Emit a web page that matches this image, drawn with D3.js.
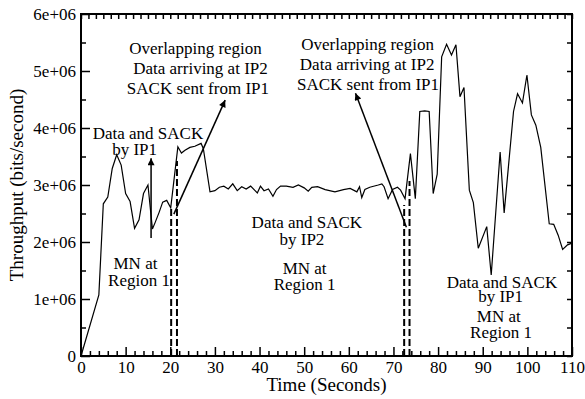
<!DOCTYPE html>
<html>
<head>
<meta charset="utf-8">
<script src="https://cdn.jsdelivr.net/npm/d3@7"></script>
<style>
  html, body { margin: 0; padding: 0; background: #fff; }
  svg { display: block; }
  text { font-family: "Liberation Serif", "Times New Roman", serif; fill: #000; }
</style>
</head>
<body>
<svg id="chart" width="585" height="399"></svg>
<script>
// ---- data ----
const times = [0, 4, 5, 6, 7, 8, 9, 10, 11, 12, 13, 14, 15, 16, 16.6, 17.5, 18.3, 19.2, 20.1,
  21.7, 22.5, 23.3, 24.4, 25.5, 26.9, 27.4, 28.9, 30, 31, 32, 33, 34, 35, 36, 37, 38, 39, 39.5,
  40.2, 41, 42, 43, 43.8, 44.7, 46, 47.5, 48.7, 50, 50.9, 51.7, 53, 54.7, 56.9, 58.8, 60.3,
  61.8, 62.4, 62.9, 63.6, 64.7, 66.6, 67.4, 67.9, 68.8, 69.8, 70.9, 71.6, 72.6, 73.8, 74.9,
  75.9, 77.0, 78.0, 78.9, 79.8, 80.8, 81.9, 83.0, 84.0, 84.9, 85.8, 87.0, 87.9, 89.0, 90.9,
  91.9, 93.9, 94.8, 96.9, 97.8, 98.9, 99.9, 100.9, 101.9, 103.0, 104.9, 105.9, 106.9, 107.9,
  109.0, 110.0];
const throughput = [0, 1.07e6, 2.67e6, 2.79e6, 3.29e6, 3.53e6, 3.35e6, 2.85e6, 2.71e6, 2.24e6,
  2.39e6, 2.85e6, 3.0e6, 2.23e6, 2.34e6, 2.52e6, 2.70e6, 2.73e6, 2.60e6,
  3.67e6, 3.56e6, 3.61e6, 3.66e6, 3.68e6, 3.73e6, 3.64e6, 2.88e6, 2.90e6, 2.96e6, 2.98e6,
  2.93e6, 3.02e6, 2.90e6, 2.97e6, 2.93e6, 2.98e6, 2.90e6, 2.86e6,
  2.98e6, 2.90e6, 2.93e6, 2.80e6, 2.92e6, 2.98e6, 2.98e6, 2.96e6, 3.0e6, 2.95e6, 2.89e6, 2.96e6,
  2.97e6, 2.92e6, 2.88e6, 2.92e6, 2.94e6,
  2.88e6, 2.97e6, 2.78e6, 2.92e6, 2.96e6, 3.0e6, 3.02e6, 2.97e6, 2.76e6, 2.92e6, 2.96e6, 2.91e6,
  2.76e6, 3.55e6, 2.76e6,
  4.29e6, 4.30e6, 4.29e6, 2.85e6, 3.19e6, 5.25e6, 5.47e6, 5.28e6, 5.46e6, 4.55e6, 4.71e6,
  2.91e6, 2.69e6, 1.89e6, 2.27e6,
  1.42e6, 3.58e6, 2.51e6, 4.29e6, 4.60e6, 4.44e6, 4.93e6, 4.23e6, 4.05e6, 3.66e6, 2.32e6,
  2.31e6, 2.12e6, 1.87e6, 1.95e6, 1.98e6];

const xTicks = [0, 10, 20, 30, 40, 50, 60, 70, 80, 90, 100, 110];
const yTicks = [0, 1e6, 2e6, 3e6, 4e6, 5e6, 6e6];
const yTickLabels = ["0", "1e+06", "2e+06", "3e+06", "4e+06", "5e+06", "6e+06"];

// dashed handover markers [time, top value]
const dashTimes = [20.2, 21.5, 72.4, 73.6];
const dashTops = [2.58e6, 3.42e6, 2.65e6, 3.07e6];

// arrows
const arrowStarts = [[15.7, 2.07e6], [20.8, 2.49e6], [72.9, 2.26e6]];
const arrowEnds = [[15.7, 3.47e6], [32.3, 4.49e6], [61.5, 4.61e6]];

// annotation labels: text, block, center time, baseline value
const noteTexts = ["Overlapping region", "Data arriving at IP2", "SACK sent from IP1",
  "Overlapping region", "Data arriving at IP2", "SACK sent from IP1",
  "Data and SACK", "by IP1", "MN at", "Region 1",
  "Data and SACK", "by IP2", "MN at", "Region 1",
  "Data and SACK", "by IP1", "MN at", "Region 1"];
const noteBlocks = [0, 0, 0, 1, 1, 1, 2, 2, 3, 3, 4, 4, 5, 5, 6, 6, 6, 6];
const noteTimes = [25.65, 26.77, 26.2, 64.2, 64.1, 64.3,
  15.0, 12.0, 12.2, 13.0,
  50.6, 49.5, 50.1, 50.1,
  94.3, 94.0, 93.6, 94.1];
const noteValues = [5.29e6, 4.95e6, 4.60e6, 5.36e6, 5.02e6, 4.67e6,
  3.80e6, 3.53e6, 1.52e6, 1.22e6,
  2.24e6, 1.95e6, 1.43e6, 1.16e6,
  1.19e6, 0.95e6, 0.60e6, 0.31e6];

// ---- drawing ----
const svg = d3.select("#chart");
const x = d3.scaleLinear().domain([0, 110]).range([81, 572]);
const y = d3.scaleLinear().domain([0, 6e6]).range([356, 14]);

const defs = svg.append("defs");
defs.append("marker")
  .attr("id", "ah").attr("markerUnits", "userSpaceOnUse")
  .attr("viewBox", "0 0 10 10").attr("refX", 10).attr("refY", 5)
  .attr("markerWidth", 9).attr("markerHeight", 7).attr("orient", "auto")
  .append("path").attr("d", "M0,0 L10,5 L0,10 Z").attr("fill", "#000");

// data line
svg.append("path")
  .datum(times.map((t, i) => [t, throughput[i]]))
  .attr("fill", "none").attr("stroke", "#000").attr("stroke-width", 1.2)
  .attr("d", d3.line().x(d => x(d[0])).y(d => y(d[1])));

// dashed lines
svg.append("g").selectAll("line").data(dashTimes).join("line")
  .attr("x1", d => x(d)).attr("x2", d => x(d))
  .attr("y1", y(0)).attr("y2", (d, i) => y(dashTops[i]))
  .attr("stroke", "#000").attr("stroke-width", 2).attr("stroke-dasharray", "7,3");

// arrows
svg.append("g").selectAll("line").data(arrowStarts).join("line")
  .attr("x1", d => x(d[0])).attr("y1", d => y(d[1]))
  .attr("x2", (d, i) => x(arrowEnds[i][0])).attr("y2", (d, i) => y(arrowEnds[i][1]))
  .attr("stroke", "#000").attr("stroke-width", 1.5).attr("marker-end", "url(#ah)");

// annotations: one text element per block, one tspan per line
const blocks = d3.groups(noteTexts.map((t, i) => ({ t, b: noteBlocks[i], x: noteTimes[i], v: noteValues[i] })), d => d.b);
svg.append("g").selectAll("text").data(blocks).join("text")
  .attr("text-anchor", "middle").attr("font-size", 17)
  .each(function ([, lines]) {
    d3.select(this).selectAll("tspan").data(lines).join("tspan")
      .attr("x", d => x(d.x)).attr("y", d => y(d.v)).text(d => d.t);
  });

// axes
function styleAxis(g) {
  g.select(".domain").remove();
  g.selectAll(".tick line").attr("stroke", "#000").attr("stroke-width", 1.5);
  g.selectAll(".tick text").attr("font-size", 17).attr("fill", "#000")
    .attr("font-family", "Liberation Serif, Times New Roman, serif");
}
const minorX = d3.range(0, 111, 2).filter(v => v % 10 !== 0);
const minorY = d3.range(0.5e6, 6e6, 1e6);

svg.append("g").attr("transform", `translate(0,${y(0)})`)
  .call(d3.axisBottom(x).tickValues(xTicks).tickSize(-9).tickPadding(5).tickFormat(d3.format("d")))
  .call(styleAxis);
svg.append("g").attr("transform", `translate(0,${y(0)})`)
  .call(d3.axisBottom(x).tickValues(minorX).tickSize(-5).tickFormat(""))
  .call(styleAxis);
svg.append("g").attr("transform", `translate(${x(0)},0)`)
  .call(d3.axisLeft(y).tickValues(yTicks).tickSize(-9).tickPadding(5)
    .tickFormat((d, i) => yTickLabels[i]))
  .call(styleAxis);
svg.append("g").attr("transform", `translate(${x(0)},0)`)
  .call(d3.axisLeft(y).tickValues(minorY).tickSize(-5).tickFormat(""))
  .call(styleAxis);
svg.append("g").attr("transform", `translate(0,${y(6e6)})`)
  .call(d3.axisTop(x).tickValues(d3.range(0, 67).map(i => i * 10 / 6)).tickSize(-5).tickFormat(""))
  .call(styleAxis);
svg.append("g").attr("transform", `translate(${x(110)},0)`)
  .call(d3.axisRight(y).tickValues(d3.range(0, 13).map(i => i * 0.5e6)).tickSize(-5).tickFormat(""))
  .call(styleAxis);

// frame
svg.append("rect")
  .attr("x", x(0)).attr("y", y(6e6))
  .attr("width", x(110) - x(0)).attr("height", y(0) - y(6e6))
  .attr("fill", "none").attr("stroke", "#000").attr("stroke-width", 2);

// axis titles
svg.append("text").attr("x", (x(0) + x(110)) / 2).attr("y", 390.5)
  .attr("text-anchor", "middle").attr("font-size", 19).text("Time (Seconds)");
svg.append("text").attr("transform", `translate(23,${(y(0) + y(6e6)) / 2}) rotate(-90)`)
  .attr("text-anchor", "middle").attr("font-size", 19).text("Throughput (bits/second)");
</script>
</body>
</html>
